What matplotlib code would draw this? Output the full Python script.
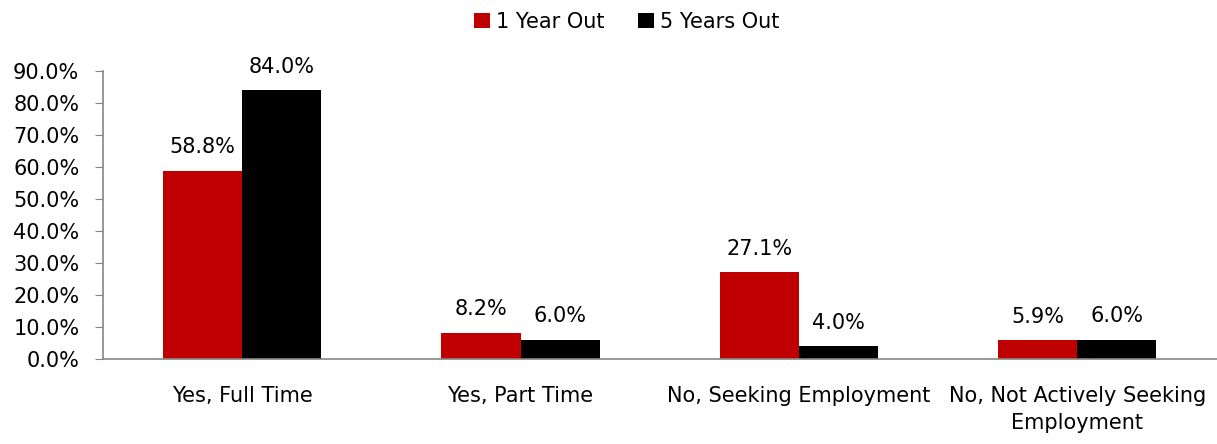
import matplotlib.pyplot as plt
import numpy as np

categories = ["Yes, Full Time", "Yes, Part Time", "No, Seeking Employment",
              "No, Not Actively Seeking\nEmployment"]
one_year = [58.8, 8.2, 27.1, 5.9]
five_years = [84.0, 6.0, 4.0, 6.0]
series_names = ["1 Year Out", "5 Years Out"]

plt.rcParams['font.family'] = ['DejaVu Sans']
fs = 15

fig = plt.figure(figsize=(12.17, 4.44), dpi=100)
ax = fig.add_axes([0.0846, 0.191, 0.915, 0.649])

x = np.arange(len(categories))
w = 0.284
b1 = ax.bar(x - w / 2, one_year, w, color='#c00000', label=series_names[0])
b2 = ax.bar(x + w / 2, five_years, w, color='#000000', label=series_names[1])

# etiquettes de valeur au-dessus des barres
for bars, vals in ((b1, one_year), (b2, five_years)):
    for r, v in zip(bars, vals):
        ax.text(r.get_x() + r.get_width() / 2, v + 5.5, "{:.1f}%".format(v),
                ha='center', va='baseline', fontsize=fs)

ax.set_xlim(-0.5, len(categories) - 0.5)
ax.set_ylim(0, 90)
ax.set_yticks(np.arange(0, 91, 10))
ax.set_yticklabels(["{:.1f}%".format(t) for t in np.arange(0, 91, 10)], fontsize=fs)
ax.set_xticks(x)
ax.set_xticklabels(categories, fontsize=fs, linespacing=1.45)
ax.tick_params(axis='x', length=0, pad=19)
ax.tick_params(axis='y', length=6, color='#868686', pad=11)

for s in ('top', 'right'):
    ax.spines[s].set_visible(False)
ax.spines['left'].set_color('#868686')
ax.spines['bottom'].set_color('#868686')
ax.spines['left'].set_linewidth(1.2)
ax.spines['bottom'].set_linewidth(1.2)

fig.legend(loc='upper center', bbox_to_anchor=(0.515, 1.015), ncol=2, frameon=False,
           fontsize=fs, handlelength=0.75, handleheight=0.75, handletextpad=0.3,
           columnspacing=1.6)

fig.savefig("out.png", dpi=100)
